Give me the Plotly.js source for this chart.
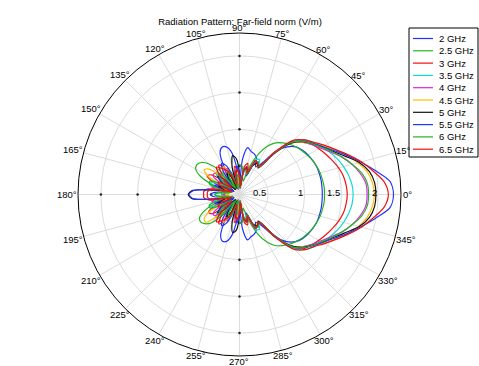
<!DOCTYPE html>
<html>
<head>
<meta charset="utf-8">
<script src="https://cdn.plot.ly/plotly-3.0.1.min.js"></script>
<style>html,body{margin:0;padding:0;background:#fff;}#chart{width:479px;height:366px;}</style>
</head>
<body>
<div id="chart"></div>
<script>
// Angles in degrees (0..360 step 5)
const theta = [0,5,10,15,20,25,30,35,40,45,50,55,60,65,70,75,80,85,90,95,100,105,110,115,120,125,130,135,140,145,150,155,160,165,170,175,180,
185,190,195,200,205,210,215,220,225,230,235,240,245,250,255,260,265,270,275,280,285,290,295,300,305,310,315,320,325,330,335,340,345,350,355,360];

const seriesNames = ['2 GHz','2.5 GHz','3 GHz','3.5 GHz','4 GHz','4.5 GHz','5 GHz','5.5 GHz','6 GHz','6.5 GHz'];
const seriesColors = ['#2233ff','#22b522','#ee1111','#11d8d8','#dd22dd','#ffbb00','#111111','#2233ff','#22b522','#ee1111'];

const r2GHz = [1.24,1.24,1.24,1.235,1.23,1.21,1.19,1.16,1.12,1.03,0.88,0.62,0.55,0.66,0.7,0.72,0.76,0.6,0.3,0.45,0.68,0.78,0.8,0.74,0.5,0.2,0.3,0.4,0.38,0.22,0.3,0.42,0.4,0.25,0.3,0.45,0.5,
0.46,0.31,0.24,0.39,0.41,0.3,0.21,0.37,0.4,0.31,0.2,0.48,0.72,0.79,0.77,0.66,0.44,0.3,0.58,0.74,0.71,0.69,0.65,0.55,0.62,0.87,1.02,1.11,1.16,1.19,1.21,1.23,1.235,1.24,1.24,1.24];

const r2p5GHz = [1.27,1.27,1.26,1.25,1.23,1.21,1.18,1.15,1.12,1.08,1.03,0.97,0.87,0.72,0.52,0.3,0.35,0.5,0.52,0.4,0.2,0.3,0.4,0.35,0.2,0.35,0.55,0.7,0.79,0.82,0.8,0.7,0.5,0.22,0.3,0.36,0.35,
0.35,0.29,0.2,0.46,0.64,0.74,0.76,0.73,0.66,0.5,0.32,0.2,0.34,0.38,0.3,0.2,0.38,0.5,0.5,0.36,0.3,0.5,0.71,0.86,0.96,1.02,1.07,1.11,1.15,1.18,1.21,1.23,1.25,1.26,1.27,1.27];

const r3GHz = [1.58,1.57,1.55,1.51,1.46,1.41,1.36,1.31,1.26,1.14,0.86,0.58,0.62,0.6,0.45,0.55,0.5,0.25,0.3,0.45,0.5,0.35,0.2,0.4,0.55,0.6,0.5,0.25,0.4,0.58,0.62,0.5,0.22,0.35,0.55,0.6,0.6,
0.6,0.54,0.34,0.23,0.5,0.6,0.57,0.4,0.26,0.5,0.6,0.54,0.4,0.2,0.36,0.5,0.44,0.3,0.26,0.5,0.54,0.45,0.6,0.62,0.58,0.86,1.13,1.26,1.31,1.36,1.41,1.46,1.51,1.55,1.57,1.58];

const r3p5GHz = [1.66,1.65,1.62,1.58,1.53,1.47,1.41,1.34,1.27,1.14,0.85,0.56,0.66,0.64,0.42,0.5,0.46,0.22,0.34,0.42,0.3,0.2,0.4,0.5,0.46,0.25,0.42,0.55,0.52,0.3,0.3,0.5,0.55,0.45,0.25,0.38,0.45,
0.38,0.26,0.46,0.55,0.5,0.3,0.3,0.52,0.56,0.42,0.24,0.46,0.5,0.4,0.2,0.3,0.42,0.34,0.22,0.46,0.5,0.42,0.64,0.66,0.56,0.85,1.14,1.28,1.35,1.41,1.47,1.53,1.58,1.62,1.65,1.66];

const r4GHz = [1.85,1.84,1.78,1.7,1.6,1.48,1.38,1.3,1.22,1.1,0.82,0.55,0.6,0.62,0.4,0.48,0.44,0.2,0.36,0.45,0.38,0.18,0.35,0.5,0.52,0.36,0.2,0.45,0.56,0.55,0.35,0.25,0.42,0.5,0.4,0.3,0.34,
0.3,0.41,0.5,0.42,0.26,0.36,0.55,0.56,0.44,0.2,0.36,0.52,0.5,0.34,0.18,0.38,0.45,0.36,0.2,0.44,0.48,0.4,0.62,0.6,0.55,0.82,1.1,1.22,1.3,1.38,1.48,1.6,1.7,1.78,1.84,1.85];

const r4p5GHz = [1.95,1.93,1.88,1.78,1.67,1.55,1.43,1.32,1.22,1.1,0.83,0.56,0.58,0.6,0.42,0.46,0.4,0.2,0.3,0.4,0.42,0.3,0.2,0.42,0.55,0.5,0.3,0.45,0.65,0.7,0.6,0.35,0.3,0.42,0.4,0.25,0.3,
0.26,0.41,0.43,0.3,0.35,0.6,0.7,0.7,0.5,0.3,0.5,0.55,0.42,0.2,0.3,0.42,0.4,0.3,0.2,0.4,0.46,0.42,0.6,0.58,0.56,0.83,1.1,1.22,1.32,1.44,1.56,1.68,1.79,1.88,1.93,1.95];

const r5GHz = [1.97,1.96,1.91,1.8,1.64,1.51,1.41,1.32,1.23,1.1,0.84,0.56,0.6,0.55,0.4,0.5,0.44,0.2,0.4,0.6,0.65,0.5,0.2,0.38,0.45,0.35,0.2,0.4,0.5,0.42,0.2,0.35,0.42,0.3,0.45,0.75,0.81,
0.76,0.46,0.3,0.43,0.36,0.2,0.43,0.5,0.4,0.2,0.36,0.46,0.38,0.2,0.5,0.64,0.6,0.4,0.2,0.44,0.5,0.4,0.56,0.6,0.56,0.84,1.1,1.23,1.32,1.41,1.51,1.64,1.8,1.91,1.96,1.97];

const r5p5GHz = [2.21,2.17,1.99,1.82,1.67,1.53,1.42,1.33,1.24,1.12,0.85,0.57,0.62,0.58,0.38,0.48,0.42,0.22,0.38,0.5,0.42,0.22,0.4,0.55,0.6,0.5,0.25,0.38,0.48,0.4,0.2,0.4,0.48,0.35,0.5,0.74,0.8,
0.75,0.5,0.36,0.47,0.4,0.2,0.4,0.48,0.38,0.25,0.5,0.6,0.55,0.4,0.22,0.42,0.5,0.38,0.22,0.42,0.48,0.38,0.58,0.62,0.57,0.85,1.12,1.24,1.33,1.42,1.53,1.67,1.82,1.99,2.17,2.21];

const r6GHz = [1.87,1.86,1.8,1.7,1.6,1.5,1.4,1.32,1.24,1.12,0.86,0.57,0.62,0.6,0.4,0.46,0.42,0.2,0.32,0.38,0.3,0.2,0.38,0.46,0.4,0.22,0.4,0.52,0.45,0.25,0.4,0.55,0.55,0.38,0.25,0.4,0.45,
0.4,0.25,0.38,0.55,0.55,0.4,0.25,0.45,0.52,0.4,0.22,0.4,0.46,0.38,0.2,0.3,0.38,0.32,0.2,0.42,0.46,0.4,0.6,0.62,0.57,0.86,1.12,1.24,1.32,1.4,1.5,1.6,1.7,1.8,1.86,1.87];

const r6p5GHz = [2.14,2.09,1.96,1.83,1.69,1.56,1.45,1.35,1.27,1.16,0.88,0.58,0.6,0.62,0.42,0.5,0.45,0.22,0.35,0.45,0.4,0.25,0.3,0.45,0.5,0.55,0.6,0.5,0.25,0.35,0.45,0.4,0.22,0.3,0.5,0.55,0.55,
0.55,0.5,0.3,0.22,0.4,0.45,0.35,0.25,0.5,0.6,0.55,0.5,0.45,0.3,0.25,0.4,0.45,0.35,0.22,0.45,0.5,0.42,0.62,0.6,0.58,0.88,1.17,1.28,1.35,1.45,1.56,1.69,1.83,1.96,2.09,2.14];

const radialTicks = [0.5, 1, 1.5, 2];
const radialTickText = ['0.5', '1', '1.5', '2'];
const radialTickMarkAngles = [90, 180, 270];
const angleTicks = [0,15,30,45,60,75,90,105,120,135,150,165,180,195,210,225,240,255,270,285,300,315,330,345];
const titleText = 'Radiation Pattern: Far-field norm (V/m)';

const seriesR = [r2GHz, r2p5GHz, r3GHz, r3p5GHz, r4GHz, r4p5GHz, r5GHz, r5p5GHz, r6GHz, r6p5GHz];

const FONT = 'Liberation Sans, Arial, sans-serif';
const FS = 9.5;
const W = 479, H = 366;
const rMin = 0.112, rMax = 2.312;
const cx = 239.5, cy = 194.5, R = 161.5;

// small tick dots of the radial scale along the other main axes
const tickR = [], tickT = [];
radialTickMarkAngles.forEach(a => radialTicks.forEach(v => { tickR.push(v); tickT.push(a); }));
const traces = [{
  type: 'scatterpolar', mode: 'markers', r: tickR, theta: tickT,
  marker: {color: '#222', size: 2.5}, showlegend: false, hoverinfo: 'skip'
}];

seriesR.forEach((r, i) => traces.push({
  type: 'scatterpolar',
  mode: 'lines',
  r: r,
  theta: theta,
  name: seriesNames[i],
  line: {color: seriesColors[i], width: 1.2, shape: 'spline', smoothing: 0.8},
  showlegend: false,
  hoverinfo: 'skip'
}));

const shapes = [];
const annotations = [];
const px = v => v / W;
const py = v => 1 - v / H;

// angular tick labels, hugging the outer circle
angleTicks.forEach(a => {
  const txt = a + '°';
  const hw = (String(a).length * 5.3 + 3.8) / 2;
  const c = Math.cos(a * Math.PI / 180), s = Math.sin(a * Math.PI / 180);
  const d = R + 1.5 + hw * c * c + 3.5 * s * s;
  annotations.push({xref: 'paper', yref: 'paper', x: px(cx + d * c), y: py(cy - d * s),
    xanchor: 'center', yanchor: 'middle', text: txt, showarrow: false,
    font: {family: FONT, size: FS, color: '#000'}});
});

// radial tick labels, right-aligned on their tick, sitting on the 0° line
const scale = R / (rMax - rMin);
radialTicks.forEach((v, i) => {
  annotations.push({xref: 'paper', yref: 'paper', x: px(cx + (v - rMin) * scale + 0.5), y: py(cy - 2),
    xanchor: 'right', yanchor: 'middle', text: radialTickText[i], showarrow: false,
    font: {family: FONT, size: FS, color: '#000'}});
});

// compact legend (box, sample lines, labels)
const lgLeft = 409, lgRight = 478, lgTop = 28, lgBottom = 157;
shapes.push({type: 'rect', xref: 'paper', yref: 'paper', x0: px(lgLeft), x1: px(lgRight), y0: py(lgBottom), y1: py(lgTop),
  line: {color: '#000', width: 1}, fillcolor: '#fff', layer: 'above'});
seriesNames.forEach((nm, i) => {
  const yc = 38.5 + 12.3 * i;
  shapes.push({type: 'line', xref: 'paper', yref: 'paper', x0: px(413), x1: px(433), y0: py(yc), y1: py(yc),
    line: {color: seriesColors[i], width: 1.2}, layer: 'above'});
  annotations.push({xref: 'paper', yref: 'paper', x: px(437), y: py(yc), xanchor: 'left', yanchor: 'middle',
    text: nm, showarrow: false, font: {family: FONT, size: FS, color: '#000'}});
});

const layout = {
  width: W, height: H,
  margin: {l: 0, r: 0, t: 0, b: 0},
  paper_bgcolor: '#fff',
  font: {family: FONT, size: FS, color: '#000'},
  showlegend: false,
  title: {text: titleText, font: {family: FONT, size: FS, color: '#000'}, x: 240 / W, xanchor: 'center', y: 1 - 22 / H, yanchor: 'middle', xref: 'paper', yref: 'paper'},
  polar: {
    domain: {x: [(cx - R) / W, (cx + R) / W], y: [1 - (cy + R) / H, 1 - (cy - R) / H]},
    bgcolor: '#fff',
    angularaxis: {
      rotation: 0, direction: 'counterclockwise', dtick: 15,
      showline: true, linecolor: '#000', linewidth: 1,
      gridcolor: '#dcdcdc', gridwidth: 1, ticks: '', showticklabels: false
    },
    radialaxis: {
      range: [rMin, rMax], tickvals: radialTicks,
      angle: 0, showline: false, ticks: '', showticklabels: false,
      gridcolor: '#dcdcdc', gridwidth: 1
    }
  },
  shapes: shapes,
  annotations: annotations
};

Plotly.newPlot('chart', traces, layout, {staticPlot: true, displayModeBar: false});
</script>
</body>
</html>
